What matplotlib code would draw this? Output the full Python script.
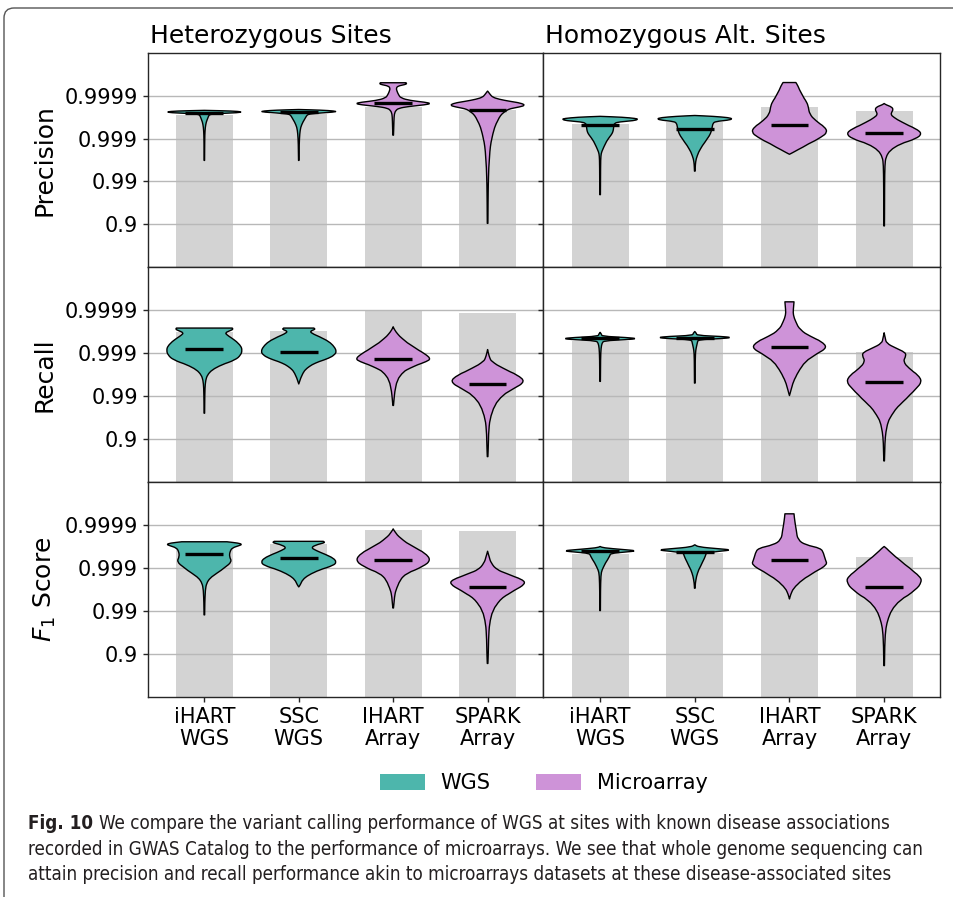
import numpy as np
import matplotlib
matplotlib.use("Agg")
import matplotlib.pyplot as plt
from matplotlib.patches import Patch, PathPatch, FancyBboxPatch
from matplotlib.path import Path
from matplotlib.transforms import IdentityTransform
from matplotlib.ticker import NullLocator
from matplotlib import font_manager

# ---------------------------------------------------------------- data
categories = ["iHART\nWGS", "SSC\nWGS", "IHART\nArray", "SPARK\nArray"]
platform = ["WGS", "WGS", "Microarray", "Microarray"]
metrics = ["Precision", "Recall", "$F_1$ Score"]
zygosity = ["Heterozygous Sites", "Homozygous Alt. Sites"]
tick_values = [0.9, 0.99, 0.999, 0.9999]
tick_labels = ["0.9", "0.99", "0.999", "0.9999"]

# all scores below are given as -log10(1 - score)
# pooled (overall) score per dataset -> grey bars
bar_het_precision = [3.55, 3.57, 3.75, 3.66]
bar_homalt_precision = [3.35, 3.38, 3.74, 3.64]
bar_het_recall = [3.50, 3.52, 3.97, 3.92]
bar_homalt_recall = [3.29, 3.33, 3.00, 3.02]
bar_het_f1 = [3.50, 3.56, 3.89, 3.87]
bar_homalt_f1 = [3.33, 3.35, 2.92, 3.26]

# per-individual medians
median_het_precision = [3.60, 3.61, 3.83, 3.66]
median_homalt_precision = [3.32, 3.23, 3.31, 3.14]
median_het_recall = [3.09, 3.03, 2.86, 2.28]
median_homalt_recall = [3.34, 3.36, 3.14, 2.32]
median_het_f1 = [3.32, 3.24, 3.18, 2.56]
median_homalt_f1 = [3.39, 3.38, 3.19, 2.56]

# per-individual density profiles (level, relative density)
het_precision_levels = [
    [3.66, 3.645, 3.625, 3.605, 3.585, 3.565, 3.54, 3.50, 3.39, 3.27, 3.10, 2.80, 2.49],
    [3.68, 3.665, 3.645, 3.625, 3.60, 3.575, 3.55, 3.50, 3.39, 3.27, 3.12, 2.90, 2.49],
    [4.305, 4.28, 4.26, 4.23, 4.18, 4.11, 4.03, 3.95, 3.89, 3.85, 3.82, 3.79, 3.75, 3.71, 3.66, 3.58, 3.43, 3.08],
    [4.11, 4.09, 4.03, 3.97, 3.92, 3.87, 3.83, 3.78, 3.74, 3.70, 3.66, 3.58, 3.50, 3.31, 3.12, 2.92, 2.73, 2.34, 1.95, 1.56, 1.02],
]
het_precision_density = [
    [0, 0.75, 1.0, 0.9, 0.35, 0.15, 0.12, 0.10, 0.05, 0.025, 0.012, 0.008, 0.006],
    [0, 0.6, 0.95, 1.0, 0.6, 0.28, 0.22, 0.185, 0.11, 0.05, 0.026, 0.012, 0.006],
    [0.34, 0.36, 0.3, 0.13, 0.08, 0.1, 0.14, 0.2, 0.45, 0.85, 1.0, 0.85, 0.4, 0.15, 0.07, 0.03, 0.02, 0.008],
    [0, 0.02, 0.07, 0.13, 0.3, 0.6, 0.88, 1.0, 0.85, 0.6, 0.5, 0.38, 0.31, 0.2, 0.14, 0.09, 0.06, 0.03, 0.018, 0.012, 0.008],
]
homalt_precision_levels = [
    [3.52, 3.50, 3.47, 3.45, 3.42, 3.39, 3.36, 3.30, 3.20, 3.12, 3.04, 2.94, 2.81, 2.69, 2.60, 2.40, 1.69],
    [3.54, 3.52, 3.49, 3.46, 3.43, 3.40, 3.36, 3.27, 3.12, 3.00, 2.84, 2.69, 2.53, 2.40, 2.24],
    [4.31, 4.24, 4.05, 3.85, 3.74, 3.58, 3.43, 3.27, 3.15, 3.04, 2.88, 2.73, 2.67, 2.634],
    [3.82, 3.79, 3.74, 3.68, 3.62, 3.56, 3.50, 3.39, 3.23, 3.12, 3.00, 2.88, 2.73, 2.57, 2.40, 2.00, 0.96],
]
homalt_precision_density = [
    [0, 0.6, 0.95, 1.0, 0.9, 0.5, 0.38, 0.36, 0.35, 0.32, 0.25, 0.17, 0.10, 0.04, 0.02, 0.012, 0.008],
    [0, 0.5, 0.9, 1.0, 0.88, 0.55, 0.48, 0.46, 0.42, 0.33, 0.20, 0.10, 0.035, 0.015, 0.008],
    [0.17, 0.22, 0.32, 0.46, 0.5, 0.53, 0.68, 0.94, 1.0, 0.85, 0.5, 0.2, 0.08, 0],
    [0, 0.05, 0.2, 0.24, 0.2, 0.18, 0.25, 0.46, 0.85, 1.0, 0.85, 0.42, 0.15, 0.045, 0.02, 0.012, 0.008],
]
het_recall_levels = [
    [3.58, 3.55, 3.52, 3.47, 3.42, 3.35, 3.27, 3.16, 3.07, 2.96, 2.84, 2.73, 2.61, 2.49, 2.37, 2.20, 1.90, 1.60],
    [3.58, 3.55, 3.51, 3.46, 3.38, 3.27, 3.15, 3.04, 2.96, 2.88, 2.80, 2.73, 2.65, 2.57, 2.42, 2.28],
    [3.61, 3.55, 3.43, 3.35, 3.15, 2.99, 2.87, 2.80, 2.73, 2.65, 2.57, 2.38, 2.10, 1.90, 1.78],
    [3.08, 3.00, 2.88, 2.81, 2.65, 2.49, 2.34, 2.18, 2.03, 1.80, 1.48, 1.17, 0.59],
]
het_recall_density = [
    [0.74, 0.76, 0.68, 0.55, 0.6, 0.72, 0.85, 0.97, 1.0, 0.97, 0.82, 0.46, 0.2, 0.08, 0.035, 0.016, 0.01, 0.007],
    [0.4, 0.44, 0.3, 0.34, 0.55, 0.8, 0.94, 1.0, 0.95, 0.8, 0.53, 0.35, 0.22, 0.13, 0.05, 0],
    [0, 0.03, 0.13, 0.22, 0.53, 0.83, 1.0, 0.88, 0.65, 0.45, 0.27, 0.1, 0.04, 0.02, 0.008],
    [0, 0.02, 0.06, 0.1, 0.4, 0.8, 1.0, 0.7, 0.4, 0.18, 0.06, 0.025, 0.008],
]
homalt_recall_levels = [
    [3.48, 3.44, 3.39, 3.36, 3.335, 3.31, 3.285, 3.23, 3.12, 2.90, 2.34],
    [3.50, 3.46, 3.41, 3.385, 3.36, 3.335, 3.31, 3.25, 3.17, 3.07, 2.90, 2.30],
    [4.19, 4.00, 3.89, 3.74, 3.54, 3.39, 3.27, 3.13, 2.99, 2.81, 2.57, 2.34, 2.14, 2.01],
    [3.47, 3.35, 3.23, 3.12, 3.02, 2.94, 2.81, 2.65, 2.49, 2.34, 2.18, 2.03, 1.87, 1.72, 1.56, 1.41, 1.17, 0.94, 0.49],
]
homalt_recall_density = [
    [0, 0.035, 0.05, 0.7, 1.0, 0.7, 0.1, 0.05, 0.025, 0.012, 0.008],
    [0, 0.04, 0.06, 0.7, 1.0, 0.7, 0.09, 0.07, 0.05, 0.025, 0.012, 0.008],
    [0.12, 0.1, 0.1, 0.16, 0.28, 0.55, 0.85, 1.0, 0.73, 0.41, 0.23, 0.1, 0.04, 0],
    [0, 0.03, 0.06, 0.3, 0.55, 0.58, 0.5, 0.65, 0.9, 1.0, 0.85, 0.68, 0.5, 0.32, 0.2, 0.1, 0.045, 0.02, 0.008],
]
het_f1_levels = [
    [3.61, 3.58, 3.55, 3.52, 3.47, 3.39, 3.27, 3.15, 3.02, 2.88, 2.77, 2.65, 2.50, 2.20, 1.91],
    [3.62, 3.59, 3.55, 3.48, 3.41, 3.32, 3.23, 3.14, 3.06, 2.96, 2.84, 2.73, 2.61, 2.56],
    [3.91, 3.85, 3.70, 3.50, 3.35, 3.19, 3.04, 2.88, 2.73, 2.49, 2.34, 2.07],
    [3.39, 3.27, 3.12, 2.96, 2.88, 2.73, 2.63, 2.49, 2.30, 2.03, 1.72, 1.41, 0.78],
]
het_f1_density = [
    [0.6, 0.9, 1.0, 0.92, 0.74, 0.68, 0.66, 0.73, 0.55, 0.33, 0.15, 0.06, 0.025, 0.012, 0.008],
    [0.65, 0.7, 0.5, 0.32, 0.45, 0.7, 0.92, 1.0, 0.92, 0.55, 0.26, 0.1, 0.04, 0],
    [0, 0.04, 0.18, 0.53, 0.85, 1.0, 0.8, 0.35, 0.18, 0.07, 0.035, 0.008],
    [0, 0.04, 0.09, 0.25, 0.48, 0.94, 1.0, 0.72, 0.35, 0.13, 0.05, 0.026, 0.008],
]
homalt_f1_levels = [
    [3.50, 3.47, 3.43, 3.40, 3.37, 3.34, 3.29, 3.12, 2.96, 2.84, 2.50, 2.01],
    [3.54, 3.49, 3.45, 3.42, 3.39, 3.35, 3.30, 3.15, 2.96, 2.81, 2.65, 2.53],
    [4.26, 4.10, 3.89, 3.66, 3.54, 3.46, 3.35, 3.19, 3.08, 2.92, 2.73, 2.53, 2.38, 2.28],
    [3.50, 3.46, 3.35, 3.19, 3.00, 2.81, 2.69, 2.49, 2.26, 2.03, 1.79, 1.56, 1.20, 0.73],
]
homalt_f1_density = [
    [0, 0.08, 0.6, 1.0, 0.65, 0.28, 0.26, 0.14, 0.05, 0.02, 0.01, 0.008],
    [0, 0.1, 0.6, 1.0, 0.65, 0.3, 0.29, 0.21, 0.1, 0.045, 0.015, 0.008],
    [0.12, 0.14, 0.18, 0.22, 0.42, 0.83, 0.9, 0.95, 1.0, 0.68, 0.33, 0.1, 0.03, 0],
    [0, 0.06, 0.19, 0.41, 0.68, 0.94, 1.0, 0.83, 0.41, 0.19, 0.09, 0.035, 0.015, 0.008],
]

caption_bold = "Fig. 10"
caption_lines = [
    "We compare the variant calling performance of WGS at sites with known disease associations",
    "recorded in GWAS Catalog to the performance of microarrays. We see that whole genome sequencing can",
    "attain precision and recall performance akin to microarrays datasets at these disease-associated sites",
]

# ---------------------------------------------------------------- style
colors = {"WGS": "#4DB6AC", "Microarray": "#CE93D8"}
bar_color = "#D3D3D3"
edge_dark = "#262626"
plt.rcParams["font.family"] = ["DejaVu Sans"]

panels = [
    [(bar_het_precision, median_het_precision, het_precision_levels, het_precision_density),
     (bar_homalt_precision, median_homalt_precision, homalt_precision_levels, homalt_precision_density)],
    [(bar_het_recall, median_het_recall, het_recall_levels, het_recall_density),
     (bar_homalt_recall, median_homalt_recall, homalt_recall_levels, homalt_recall_density)],
    [(bar_het_f1, median_het_f1, het_f1_levels, het_f1_density),
     (bar_homalt_f1, median_homalt_f1, homalt_f1_levels, homalt_f1_density)],
]


def to_score(q):
    return 1.0 - 10.0 ** (-np.asarray(q, dtype=float))


def err_forward(p):
    return -np.log10(np.clip(1.0 - np.asarray(p, dtype=float), 1e-12, None))


def err_inverse(t):
    return 1.0 - 10.0 ** (-np.asarray(t, dtype=float))


def rounded_side(pts):
    """Vertices/codes running through pts with quadratic rounding at the knots."""
    verts, codes = [], []
    if len(pts) > 2:
        verts.append((pts[0] + pts[1]) / 2)
        codes.append(Path.LINETO)
        for k in range(1, len(pts) - 1):
            verts += [pts[k], (pts[k] + pts[k + 1]) / 2]
            codes += [Path.CURVE3, Path.CURVE3]
    verts.append(pts[-1])
    codes.append(Path.LINETO)
    return verts, codes


def violin_path(center, levels, widths):
    y = to_score(levels)
    left = np.column_stack([center - widths, y])
    right = np.column_stack([center + widths, y])[::-1]
    verts, codes = [left[0]], [Path.MOVETO]
    v, c = rounded_side(left)
    verts += v
    codes += c
    verts.append(right[0])
    codes.append(Path.LINETO)
    v, c = rounded_side(right)
    verts += v
    codes += c
    verts.append(left[0])
    codes.append(Path.CLOSEPOLY)
    return Path(np.array(verts), codes)


W, H = 954, 897
fig = plt.figure(figsize=(W / 100, H / 100), dpi=100)

col_edges = [(147.7, 543.3), (543.3, 940.0)]
row_edges = [(53.0, 267.0), (267.0, 482.0), (482.0, 697.0)]
x = np.arange(len(categories))
half_violin = 0.4
half_median = 0.2

for r, (top, bottom) in enumerate(row_edges):
    for c, (left, right) in enumerate(col_edges):
        ax = fig.add_axes([left / W, 1 - bottom / H, (right - left) / W, (bottom - top) / H])
        bars, medians, levels, density = panels[r][c]

        ax.set_yscale("function", functions=(err_forward, err_inverse))
        ax.bar(x, to_score(bars), width=0.6, color=bar_color, zorder=1)

        for i in range(len(categories)):
            w = half_violin * np.asarray(density[i], dtype=float)
            ax.add_patch(PathPatch(violin_path(x[i], levels[i], w), facecolor=colors[platform[i]],
                                   edgecolor="black", linewidth=1.0, joinstyle="round", zorder=2))
            m = to_score(medians[i])
            ax.plot([x[i] - half_median, x[i] + half_median], [m, m], color="black",
                    linewidth=2.4, solid_capstyle="butt", zorder=3)

        ax.set_xlim(-0.6, 3.59)
        ax.set_ylim(0.0, to_score(5.0))
        ax.set_yticks(tick_values)
        ax.yaxis.set_minor_locator(NullLocator())
        ax.set_axisbelow("line")
        ax.yaxis.grid(True, color="#B8B8B8", linewidth=1.0)
        for s in ax.spines.values():
            s.set_color(edge_dark)
            s.set_linewidth(1.0)
        ax.tick_params(colors=edge_dark, labelcolor="black", labelsize=15, width=1.0, length=3.5)

        if c == 0:
            ax.set_yticklabels(tick_labels)
        else:
            ax.set_yticklabels([])
        if r == len(row_edges) - 1:
            ax.set_xticks(x)
            ax.set_xticklabels(categories, linespacing=1.15)
        else:
            ax.set_xticks([])

        if c == 0:
            fig.text(45 / W, 1 - (top + bottom) / 2 / H, metrics[r], rotation=90,
                     ha="center", va="center", fontsize=18)
        if r == 0:
            fig.text((left + 2) / W, 1 - 43 / H, zygosity[c], ha="left", va="baseline", fontsize=18)

handles = [Patch(facecolor=colors[k], edgecolor="none", label=k) for k in ["WGS", "Microarray"]]
fig.legend(handles=handles, loc="center", bbox_to_anchor=(544 / W, 1 - 783 / H), ncol=2,
           frameon=False, fontsize=15, handlelength=2.15, handleheight=0.8,
           handletextpad=0.75, columnspacing=2.2)

# caption block
available = {f.name for f in font_manager.fontManager.ttflist}
cap_family = "Liberation Sans Narrow" if "Liberation Sans Narrow" in available else "DejaVu Sans"
cap_stretch = "normal" if cap_family == "Liberation Sans Narrow" else "condensed"
renderer = fig.canvas.get_renderer()

probe = fig.text(0, 0, caption_lines[1], fontsize=10, family=cap_family, fontstretch=cap_stretch)
probe_w = probe.get_window_extent(renderer).width
probe.remove()
cap_size = 10 * (930 - 28) / probe_w

cap_color = "#231F20"
baselines = [829, 855, 880]
bold = fig.text(28 / W, 1 - baselines[0] / H, caption_bold, fontsize=cap_size, fontweight="bold",
                family=cap_family, fontstretch=cap_stretch, color=cap_color, va="baseline")
bold_w = bold.get_window_extent(renderer).width
fig.text((28 + bold_w + 0.45 * cap_size) / W, 1 - baselines[0] / H, caption_lines[0],
         fontsize=cap_size, family=cap_family, fontstretch=cap_stretch, color=cap_color, va="baseline")
for line, b in zip(caption_lines[1:], baselines[1:]):
    fig.text(28 / W, 1 - b / H, line, fontsize=cap_size, family=cap_family,
             fontstretch=cap_stretch, color=cap_color, va="baseline")

# rounded frame around the figure panel
frame = FancyBboxPatch((4, -40), 1040, H - 8 + 40, boxstyle="round,pad=0,rounding_size=10",
                       transform=IdentityTransform(), fill=False, edgecolor="#555555", linewidth=1.0)
fig.add_artist(frame)

fig.savefig("out.png", dpi=100)
